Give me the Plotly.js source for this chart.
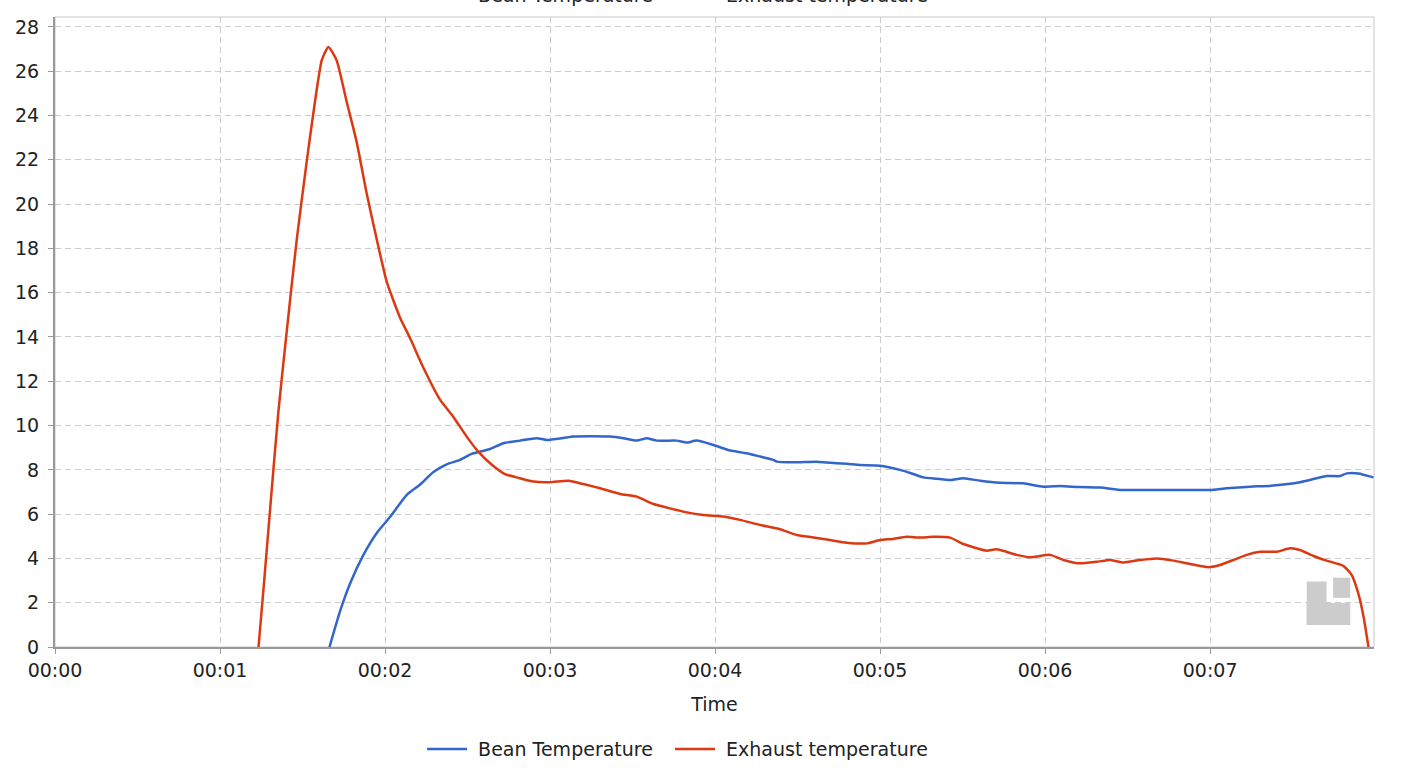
<!DOCTYPE html>
<html>
<head>
<meta charset="utf-8">
<script src="https://cdn.plot.ly/plotly-3.0.1.min.js"></script>
<style>
  body { margin: 0; background: #fff; }
  #chart { width: 1406px; height: 780px; }
</style>
</head>
<body>
<div id="chart"></div>
<script>
// time in seconds since start
var exhaustTime = [74, 76, 78.2, 81.2, 84.3, 87.9, 91.5, 94.5, 97, 99.4, 102.4, 106.1, 109.7,
  113.3, 117, 120.6, 125.5, 129.1, 134, 140, 144.8, 149.7, 153.9, 158.2, 163.6, 169.1, 173.9,
  180, 186.7, 192.1, 198.2, 205.5, 211.5, 217.6, 223.6, 229.7, 235.8, 243, 249.1, 256.4, 263.6,
  269.7, 275.8, 281.8, 287.9, 295.2, 300, 304.8, 309.7, 314.5, 319.4, 325.5, 330.3, 335.2, 338.8,
  342.4, 349.7, 354.5, 361.8, 366.7, 372.1, 378.8, 383.6, 388.5, 394.5, 400.6, 406.7, 412.7,
  419.4, 423.6, 428.5, 433.3, 438.2, 444.2, 449.1, 452.7, 457.6, 462.4, 468.5, 471.5, 473.9,
  475.8, 477.6];
var exhaustTemp = [0, 2.9, 6.2, 10.6, 14.3, 18.4, 21.9, 24.6, 26.5, 27.1, 26.5, 24.6, 22.8,
  20.5, 18.4, 16.5, 14.86, 13.95, 12.6, 11.17, 10.4, 9.5, 8.82, 8.3, 7.81, 7.62, 7.47,
  7.44, 7.51, 7.36, 7.17, 6.91, 6.79, 6.46, 6.26, 6.08, 5.96, 5.89, 5.74, 5.51, 5.32,
  5.06, 4.95, 4.83, 4.71, 4.68, 4.83, 4.88, 4.98, 4.94, 4.98, 4.94, 4.65, 4.46, 4.35,
  4.41, 4.16, 4.05, 4.16, 3.93, 3.78, 3.85, 3.93, 3.82, 3.93, 4.0, 3.9, 3.75,
  3.6, 3.7, 3.93, 4.16, 4.3, 4.3, 4.46, 4.38, 4.11, 3.9, 3.66, 3.25, 2.42,
  1.37, 0];

var beanTime = [99.8, 103.6, 107.3, 112.1, 117, 121.8, 127.9, 132.7, 137.6, 142.4, 147.3, 151.5,
  158.2, 163, 169.1, 175.2, 178.8, 184.8, 188.5, 201.8, 206.7, 211.5, 215.2, 218.8, 226.1,
  229.7, 233.3, 239.4, 245.5, 251.5, 256.4, 261.2, 262.4, 268.5, 277, 280.6, 287.9, 292.7,
  300, 307.3, 312.1, 315.8, 320.6, 325.5, 330.3, 336.4, 343.6, 352.1, 359.4, 365.5, 372.7,
  380, 387.9, 395.8, 404.2, 411.5, 420, 426.1, 434.5, 443, 452.7, 458.8, 462.4, 467.3,
  469.7, 473.9, 479.4];
var beanTemp = [0, 1.6, 2.87, 4.15, 5.15, 5.87, 6.87, 7.33, 7.9, 8.25, 8.45, 8.72,
  8.94, 9.2, 9.32, 9.43, 9.35, 9.44, 9.51, 9.51, 9.43, 9.32, 9.43, 9.32, 9.32,
  9.23, 9.32, 9.12, 8.87, 8.75, 8.6, 8.45, 8.37, 8.34, 8.37, 8.33, 8.27, 8.22,
  8.19, 8.0, 7.81, 7.66, 7.6, 7.54, 7.62, 7.51, 7.42, 7.39, 7.24, 7.27, 7.22,
  7.2, 7.09, 7.09, 7.09, 7.09, 7.09, 7.17, 7.24, 7.29, 7.44, 7.62, 7.72, 7.72,
  7.84, 7.84, 7.66];

var tickSeconds = [0, 60, 120, 180, 240, 300, 360, 420];
var tickLabels = ['00:00', '00:01', '00:02', '00:03', '00:04', '00:05', '00:06', '00:07'];
var seriesNames = ['Bean Temperature', 'Exhaust temperature'];

var BLUE = 'rgb(51, 102, 204)';
var RED = 'rgb(220, 57, 18)';
var FONT = 'DejaVu Sans';
var NBSP = '\u00a0'; // spacing inside legend entries

var beanLabel = NBSP + seriesNames[0] + NBSP + NBSP;
var exhaustLabel = NBSP + seriesNames[1];

var bean = {
  type: 'scatter', mode: 'lines', name: beanLabel,
  x: beanTime, y: beanTemp,
  line: { color: BLUE, width: 2.5, shape: 'spline', smoothing: 0.5 },
  hoverinfo: 'skip'
};
var exhaust = {
  type: 'scatter', mode: 'lines', name: exhaustLabel,
  x: exhaustTime, y: exhaustTemp,
  line: { color: RED, width: 2.5, shape: 'spline', smoothing: 0.5 },
  hoverinfo: 'skip'
};
// second (clipped) legend at the very top
var beanTop = { type: 'scatter', mode: 'lines', name: beanLabel, x: [null], y: [null],
  line: { color: BLUE, width: 2.5 }, legend: 'legend2', hoverinfo: 'skip' };
var exhaustTop = { type: 'scatter', mode: 'lines', name: exhaustLabel, x: [null], y: [null],
  line: { color: RED, width: 2.5 }, legend: 'legend2', hoverinfo: 'skip' };

var legendStyle = function(y) {
  return {
    orientation: 'h', x: 0.472, xanchor: 'center', y: y, yanchor: 'middle',
    itemwidth: 40,
    font: { family: FONT, size: 19, color: '#222' },
    bgcolor: 'rgba(0,0,0,0)', itemclick: false, itemdoubleclick: false
  };
};

var layout = {
  width: 1406, height: 780,
  margin: { l: 55, r: 32, t: 17, b: 133, autoexpand: false },
  paper_bgcolor: '#fff', plot_bgcolor: '#fff',
  font: { family: FONT, size: 19, color: '#222' },
  showlegend: true,
  legend: legendStyle(-0.162),
  legend2: legendStyle(1.035),
  xaxis: {
    range: [0, 479.6],
    tickmode: 'array', tickvals: tickSeconds, ticktext: tickLabels,
    showgrid: true, gridcolor: '#cccccc', griddash: '6px,4px', gridwidth: 1,
    showline: true, linecolor: '#999999', linewidth: 2,
    ticks: 'outside', ticklen: 5, tickcolor: '#999999',
    zeroline: false,
    tickfont: { family: FONT, size: 19, color: '#222' },
    title: { text: 'Time', font: { family: FONT, size: 19, color: '#222' }, standoff: 18 }
  },
  yaxis: {
    range: [0, 28.45],
    tick0: 0, dtick: 2,
    showgrid: true, gridcolor: '#cccccc', griddash: '6px,4px', gridwidth: 1,
    showline: true, linecolor: '#999999', linewidth: 2,
    ticks: 'outside', ticklen: 5, tickcolor: '#999999',
    ticklabelstandoff: 5,
    zeroline: false,
    tickfont: { family: FONT, size: 19, color: '#222' }
  },
  shapes: [
    { type: 'rect', xref: 'paper', yref: 'paper', x0: 0, x1: 1, y0: 0, y1: 1,
      line: { color: '#c8c8c8', width: 1 }, layer: 'below' },
    // faint watermark logo
    { type: 'rect', xref: 'paper', yref: 'paper', x0: 0.949, x1: 0.964, y0: 0.035, y1: 0.104,
      fillcolor: '#cccccc', line: { width: 0 }, layer: 'below' },
    { type: 'rect', xref: 'paper', yref: 'paper', x0: 0.949, x1: 0.982, y0: 0.035, y1: 0.070,
      fillcolor: '#cccccc', line: { width: 0 }, layer: 'below' },
    { type: 'rect', xref: 'paper', yref: 'paper', x0: 0.969, x1: 0.982, y0: 0.078, y1: 0.11,
      fillcolor: '#cccccc', line: { width: 0 }, layer: 'below' }
  ]
};

Plotly.newPlot('chart', [bean, exhaust, beanTop, exhaustTop], layout, { displayModeBar: false, staticPlot: true });
</script>
</body>
</html>
